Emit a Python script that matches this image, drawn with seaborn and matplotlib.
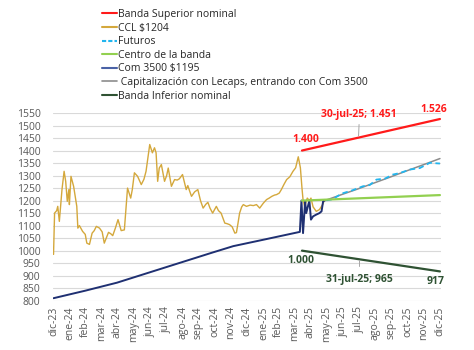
import numpy as np
import pandas as pd
import matplotlib
matplotlib.use("Agg")
import matplotlib.pyplot as plt
import seaborn as sns
from matplotlib.lines import Line2D

# ---------------- data ----------------
base_date = pd.Timestamp("2023-12-31")

ccl_days = [0, 2, 6, 8, 11, 16, 20, 23, 26, 29, 30, 33, 38, 44, 46, 49, 55, 60, 63, 68, 73, 77,
            81, 87, 92, 96, 104, 108, 112, 117, 122, 128, 134, 140, 143, 146, 149, 153, 159, 166,
            171, 175, 182, 187, 191, 194, 197, 200, 204, 210, 214, 217, 223, 229, 234, 238, 244,
            251, 254, 258, 261, 267, 273, 278, 283, 288, 292, 296, 301, 308, 312, 317, 324, 328,
            333, 338, 343, 346, 349, 352, 356, 359, 365, 372, 378, 384, 390, 397, 403, 408, 413,
            418, 422, 427, 431, 436, 441, 447, 453, 458, 463, 467, 470, 472, 475, 480, 484, 487,
            491, 497, 503, 509, 513]
ccl_vals = [985, 1150, 1160, 1177, 1117, 1244, 1317, 1277, 1197, 1244, 1184, 1297, 1257, 1177,
            1090, 1100, 1077, 1065, 1030, 1025, 1070, 1080, 1097, 1090, 1075, 1030, 1073, 1068,
            1060, 1090, 1124, 1080, 1083, 1250, 1230, 1210, 1244, 1311, 1297, 1264, 1285, 1317,
            1424, 1391, 1411, 1391, 1277, 1330, 1344, 1277, 1300, 1330, 1257, 1284, 1282, 1287,
            1304, 1244, 1260, 1235, 1217, 1235, 1244, 1200, 1170, 1185, 1193, 1170, 1150, 1177,
            1160, 1150, 1110, 1108, 1104, 1095, 1070, 1072, 1110, 1150, 1175, 1184, 1177, 1182,
            1180, 1184, 1170, 1190, 1204, 1210, 1217, 1222, 1224, 1230, 1244, 1265, 1284, 1295,
            1317, 1331, 1375, 1331, 1250, 1204, 1177, 1210, 1200, 1210, 1175, 1157, 1164, 1184,
            1204]

com_days = [0, 60, 120, 180, 240, 300, 340, 400, 466, 469, 472, 476, 478, 484, 487, 491, 497,
            503, 507, 510, 513]
com_vals = [810, 840, 872, 912, 952, 992, 1018, 1045, 1075, 1200, 1070, 1197, 1150, 1200, 1124,
            1137, 1144, 1150, 1157, 1197, 1200]

cap_days = [513, 545, 575, 606, 637, 667, 698, 731]
cap_vals = [1200, 1224, 1246, 1270, 1294, 1318, 1342, 1368]

fut_days = [516, 528, 545, 564, 585, 598, 611, 627, 642, 655, 674, 693, 712, 731]
fut_vals = [1201, 1205, 1228, 1240, 1257, 1262, 1284, 1288, 1304, 1310, 1324, 1330, 1351, 1348]

band_days = [470, 731]
sup_vals = [1400, 1526]
centro_vals = [1200, 1222]
inf_vals = [1000, 917]

month_labels = ["dic-23", "ene-24", "feb-24", "mar-24", "abr-24", "may-24", "jun-24", "jul-24",
                "ago-24", "sep-24", "oct-24", "nov-24", "dic-24", "ene-25", "feb-25", "mar-25",
                "abr-25", "may-25", "jun-25", "jul-25", "ago-25", "sep-25", "oct-25", "nov-25",
                "dic-25"]

labels = ["Banda Superior nominal", "CCL $1204", "Futuros", "Centro de la banda",
          "Com 3500 $1195", " Capitalización con Lecaps, entrando con Com 3500",
          "Banda Inferior nominal"]

# ---------------- style ----------------
sns.set_style("white")
plt.rcParams["font.family"] = ["Open Sans", "DejaVu Sans"]

RED = "#FF1A1A"
GOLD = "#D4A83C"
CYAN = "#22B5EE"
LGREEN = "#92D050"
NAVY = "#1F3072"
NAVY_LEG = "#4A62A6"
GRAY = "#8C8C8C"
DGREEN = "#2F5233"
TXT = "#595959"

def to_dates(days):
    return base_date + pd.to_timedelta(days, unit="D")

fig = plt.figure(figsize=(4.74, 3.5), dpi=100)
ax = fig.add_axes([53 / 474, 1 - 300.7 / 350, (441 - 53) / 474, (300.7 - 113) / 350])

sns.lineplot(x=to_dates(ccl_days), y=ccl_vals, ax=ax, color=GOLD, lw=1.0)
sns.lineplot(x=to_dates(com_days), y=com_vals, ax=ax, color=NAVY, lw=1.4)
sns.lineplot(x=to_dates(cap_days), y=cap_vals, ax=ax, color=GRAY, lw=1.1)
sns.lineplot(x=to_dates(fut_days), y=fut_vals, ax=ax, color=CYAN, lw=1.3, linestyle=(0, (3, 2)))
sns.lineplot(x=to_dates(band_days), y=centro_vals, ax=ax, color=LGREEN, lw=1.6)
sns.lineplot(x=to_dates(band_days), y=sup_vals, ax=ax, color=RED, lw=1.6)
sns.lineplot(x=to_dates(band_days), y=inf_vals, ax=ax, color=DGREEN, lw=1.6)

# axes
ax.set_ylim(800, 1550)
ax.set_yticks(np.arange(800, 1551, 50))
ax.set_xlim(base_date - pd.Timedelta(days=1), base_date + pd.Timedelta(days=733))
ticks = pd.date_range("2023-12-31", periods=len(month_labels), freq="ME")
ax.set_xticks(ticks)
ax.set_xticklabels(month_labels, rotation=90)
ax.tick_params(axis="both", labelsize=7.5, colors=TXT, length=0, pad=4)
ax.tick_params(axis="y", pad=9)
ax.grid(axis="y", color="#D9D9D9", lw=0.8)
ax.grid(axis="x", visible=False)
for s in ax.spines.values():
    s.set_visible(False)
ax.set_xlabel("")
ax.set_ylabel("")

# annotations
def d(day):
    return base_date + pd.Timedelta(days=day)

ax.text(d(477), 1444, "1.400", color=RED, fontsize=7.5, fontweight="bold", ha="center", va="center")
ax.text(d(578), 1545, "30-jul-25; 1.451", color=RED, fontsize=7.5, fontweight="bold",
        ha="center", va="center", clip_on=False)
ax.plot([d(578), d(577)], [1504, 1458], color="#A6A6A6", lw=0.7)
ax.text(d(720), 1565, "1.526", color=RED, fontsize=7.5, fontweight="bold", ha="center",
        va="center", clip_on=False)
ax.text(d(467), 959, "1.000", color=DGREEN, fontsize=7.5, fontweight="bold", ha="center", va="center")
ax.text(d(579), 883, "31-jul-25; 965", color=DGREEN, fontsize=7.5, fontweight="bold",
        ha="center", va="center")
ax.plot([d(578), d(578)], [962, 940], color="#A6A6A6", lw=0.7)
ax.text(d(723), 876, "917", color=DGREEN, fontsize=7.5, fontweight="bold", ha="center", va="center")

# legend
handles = [
    Line2D([], [], color=RED, lw=1.5),
    Line2D([], [], color=GOLD, lw=1.5),
    Line2D([], [], color=CYAN, lw=1.5, linestyle=(0, (2, 1))),
    Line2D([], [], color=LGREEN, lw=1.5),
    Line2D([], [], color=NAVY_LEG, lw=1.5),
    Line2D([], [], color=GRAY, lw=1.2),
    Line2D([], [], color=DGREEN, lw=1.5),
]
leg = fig.legend(handles, labels, loc="upper left", bbox_to_anchor=(102 / 474, 1 - 9 / 350),
                 frameon=False, fontsize=7.5, handlelength=1.4, handletextpad=0.1,
                 labelspacing=0.25, borderpad=0, borderaxespad=0)
for t in leg.get_texts():
    t.set_color("#262626")

fig.savefig("out.png", dpi=100)
